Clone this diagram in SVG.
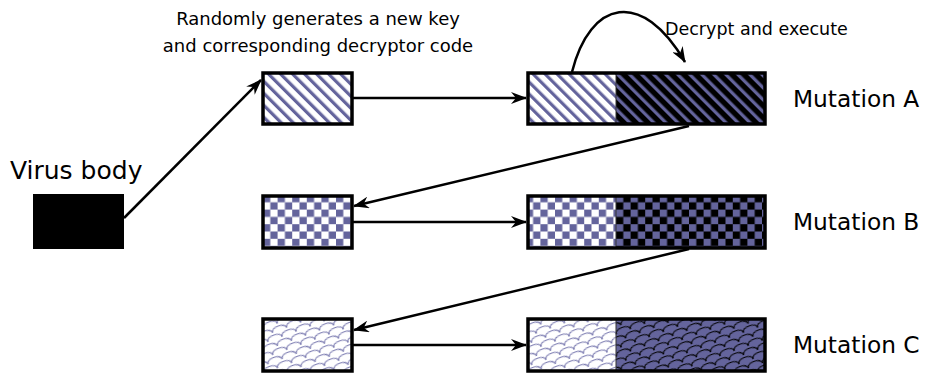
<svg xmlns="http://www.w3.org/2000/svg" width="939" height="374" viewBox="0 0 939 374">
<style>
.lbl{font-family:"DejaVu Sans","Liberation Sans",sans-serif;fill:#000}
.big{font-size:23.3px}
.small{font-size:18px}
.box{stroke:#000;stroke-width:3.5}
.div{stroke:#333;stroke-width:1}
.con{stroke:#000;stroke-width:2.5;fill:none;marker-end:url(#ah)}
</style>
<defs>
<marker id="ah" viewBox="0 0 16 12" refX="15" refY="6" markerWidth="16" markerHeight="12" markerUnits="userSpaceOnUse" orient="auto">
<path d="M0,0 L16,6 L0,12 L5,6 z" fill="#000"/>
</marker>
<pattern id="stripeL" patternUnits="userSpaceOnUse" width="8.5" height="20" patternTransform="rotate(-45)">
<rect width="8.5" height="20" fill="#fff"/>
<rect width="3.2" height="20" fill="#64649c"/>
</pattern>
<pattern id="stripeD" patternUnits="userSpaceOnUse" width="8.5" height="20" patternTransform="rotate(-45)">
<rect width="8.5" height="20" fill="#000"/>
<rect width="3.2" height="20" fill="#64649c"/>
</pattern>
<pattern id="checkL" patternUnits="userSpaceOnUse" x="263" y="195" width="14.6" height="14.6">
<rect width="14.6" height="14.6" fill="#fff"/>
<rect width="7.3" height="7.3" fill="#64649c"/>
<rect x="7.3" y="7.3" width="7.3" height="7.3" fill="#64649c"/>
</pattern>
<pattern id="checkD" patternUnits="userSpaceOnUse" x="616" y="195" width="14.6" height="14.6">
<rect width="14.6" height="14.6" fill="#000"/>
<rect width="7.3" height="7.3" fill="#64649c"/>
<rect x="7.3" y="7.3" width="7.3" height="7.3" fill="#64649c"/>
</pattern>
<pattern id="scaleL" patternUnits="userSpaceOnUse" width="15" height="14" patternTransform="rotate(-20)">
<rect width="15" height="14" fill="#fff"/>
<path d="M0,7 C0,1 15,1 15,7 M-7.5,14 C-7.5,8 7.5,8 7.5,14 M7.5,14 C7.5,8 22.5,8 22.5,14 M-7.5,0 C-7.5,-6 7.5,-6 7.5,0 M7.5,0 C7.5,-6 22.5,-6 22.5,0" fill="none" stroke="#7a7ab0" stroke-width="1.2"/>
</pattern>
<pattern id="scaleD" patternUnits="userSpaceOnUse" width="15" height="14" patternTransform="rotate(-20)">
<rect width="15" height="14" fill="#64649c"/>
<path d="M0,7 C0,1 15,1 15,7 M-7.5,14 C-7.5,8 7.5,8 7.5,14 M7.5,14 C7.5,8 22.5,8 22.5,14 M-7.5,0 C-7.5,-6 7.5,-6 7.5,0 M7.5,0 C7.5,-6 22.5,-6 22.5,0" fill="none" stroke="#000" stroke-width="1.2"/>
</pattern>
</defs>

<g id="connectors">
<line class="con" x1="124" y1="218" x2="261" y2="80"/>
<line class="con" x1="352" y1="98" x2="526" y2="98"/>
<path class="con" d="M572,72 C590,0 642,-12 685,62"/>
<line class="con" x1="689" y1="126" x2="354" y2="206"/>
<line class="con" x1="352" y1="222" x2="526" y2="222"/>
<line class="con" x1="689" y1="249" x2="354" y2="330"/>
<line class="con" x1="352" y1="345" x2="526" y2="345"/>
</g>

<g id="virus">
<rect x="33" y="194" width="91" height="55" fill="#000"/>
<text class="lbl" x="10" y="179" style="font-size:25px">Virus body</text>
</g>

<g id="label-top">
<text class="lbl small" x="318" y="25" text-anchor="middle">Randomly generates a new key</text>
<text class="lbl small" x="318" y="52" text-anchor="middle">and corresponding decryptor code</text>
</g>
<g id="label-decrypt">
<text class="lbl" x="665" y="35" style="font-size:17.5px">Decrypt and execute</text>
</g>

<g id="keyA"><rect class="box" x="263" y="73" width="89" height="51" fill="url(#stripeL)"/></g>
<g id="mutA">
<rect x="528" y="73" width="88" height="51" fill="url(#stripeL)"/>
<rect x="616" y="73" width="149" height="51" fill="url(#stripeD)"/>
<line class="div" x1="616" y1="73" x2="616" y2="124"/>
<rect class="box" x="528" y="73" width="237" height="51" fill="none"/>
<text class="lbl big" x="793" y="107">Mutation A</text>
</g>

<g id="keyB"><rect class="box" x="263" y="196" width="89" height="52" fill="url(#checkL)"/></g>
<g id="mutB">
<rect x="528" y="196" width="88" height="52" fill="url(#checkL)"/>
<rect x="616" y="196" width="149" height="52" fill="url(#checkD)"/>
<line class="div" x1="616" y1="196" x2="616" y2="248"/>
<rect class="box" x="528" y="196" width="237" height="52" fill="none"/>
<text class="lbl big" x="793" y="230">Mutation B</text>
</g>

<g id="keyC"><rect class="box" x="263" y="319" width="89" height="52" fill="url(#scaleL)"/></g>
<g id="mutC">
<rect x="528" y="319" width="88" height="52" fill="url(#scaleL)"/>
<rect x="616" y="319" width="149" height="52" fill="url(#scaleD)"/>
<line class="div" x1="616" y1="319" x2="616" y2="371"/>
<rect class="box" x="528" y="319" width="237" height="52" fill="none"/>
<text class="lbl big" x="793" y="353">Mutation C</text>
</g>
</svg>
